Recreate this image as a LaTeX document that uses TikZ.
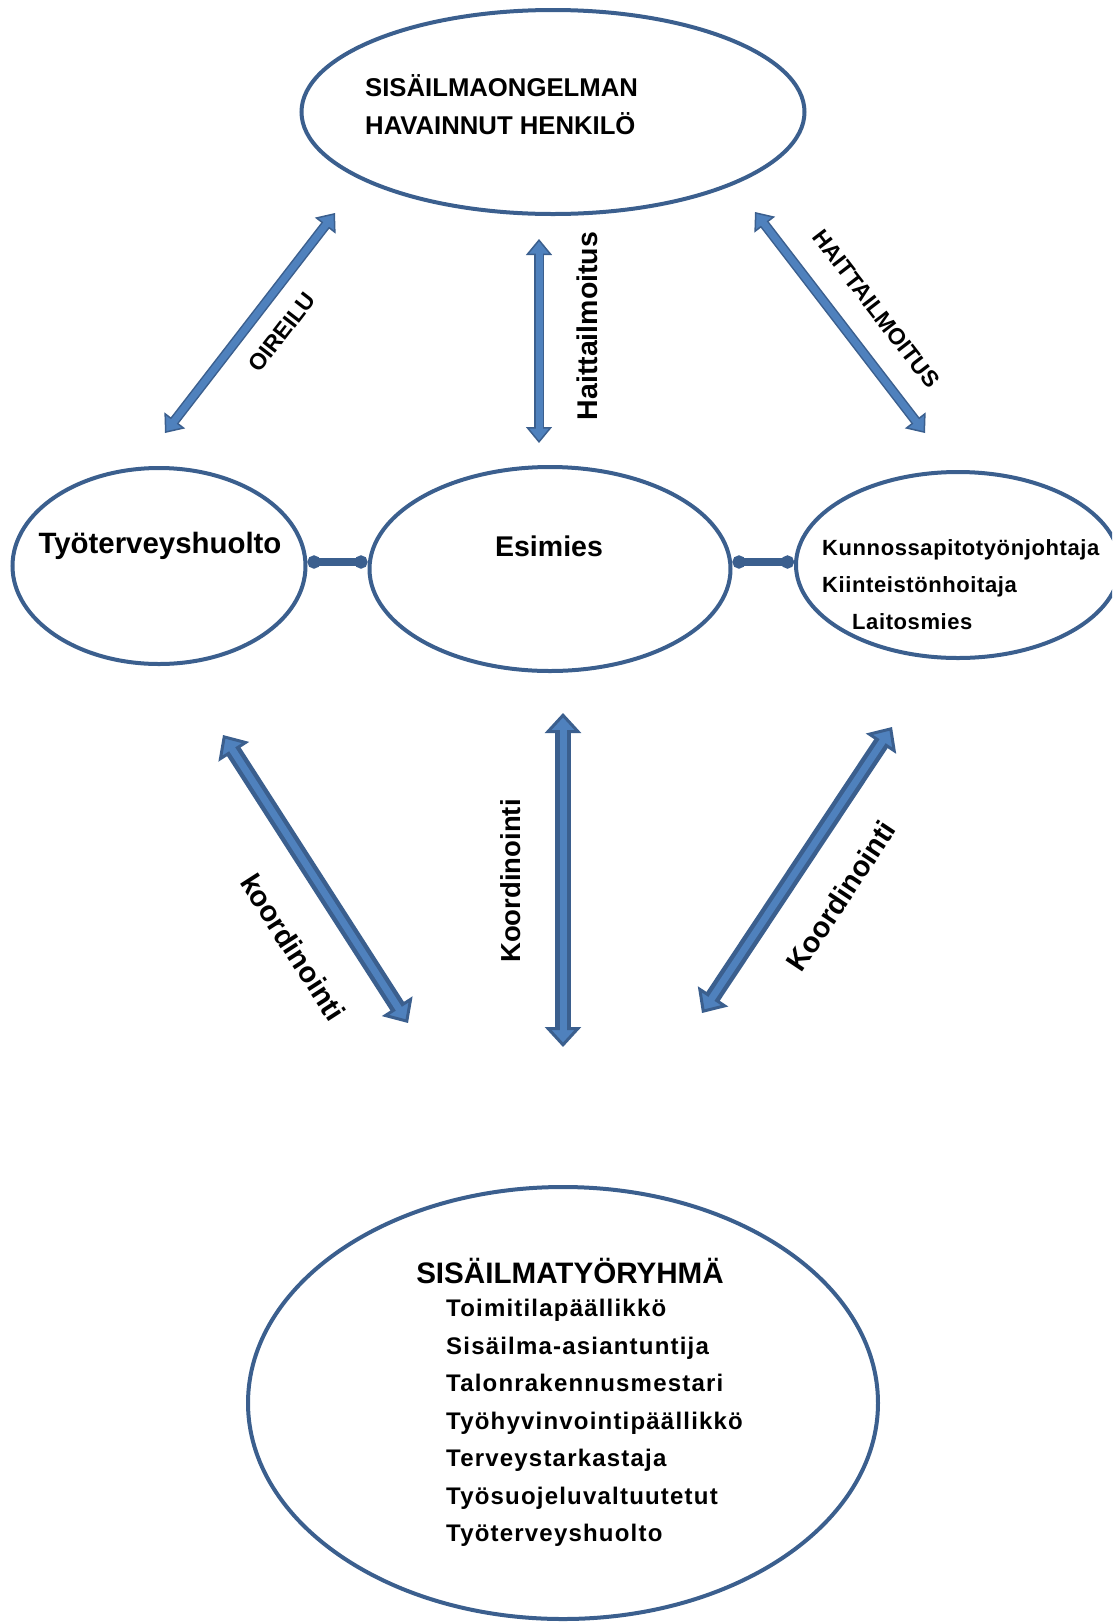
\documentclass[tikz,border=0pt]{standalone}
\usepackage{fontspec}
\setmainfont{Liberation Sans}
\newfontfamily\spacedsans[LetterSpace=5]{Liberation Sans}
\newfontfamily\tightsans[LetterSpace=2.7]{Liberation Sans}
\usetikzlibrary{shapes.geometric, arrows.meta, positioning}

\definecolor{edgeblue}{HTML}{3B5F8E}
\definecolor{arrowblue}{HTML}{4F81BD}

\tikzset{
    bubble/.style={ellipse, draw=edgeblue, line width=4pt, inner sep=0pt},
    caption/.style={inner sep=0pt},
    thinflow/.style={draw=edgeblue, line width=10pt,
        >={Triangle[length=16pt, width=26pt, fill=arrowblue, color=edgeblue, line width=1.5pt 0]}, <->,
        postaction={draw=arrowblue, line width=7pt, -, shorten <=9pt, shorten >=9pt}},
    thickflow/.style={draw=edgeblue, line width=16pt,
        >={Triangle[length=20pt, width=36pt, fill=arrowblue, color=edgeblue, line width=3pt 0]}, <->,
        postaction={draw=arrowblue, line width=7pt, -, shorten <=12pt, shorten >=12pt}},
    joint/.style={draw=edgeblue, line width=8pt, {Circle[length=13pt]}-{Circle[length=13pt]}}
}

\begin{document}
\begin{tikzpicture}[x=1pt, y=-1pt]
    \useasboundingbox (0,0) rectangle (1112,1623);
    \clip (0,0) rectangle (1112,1623);

    %% Ellipses
    \node[bubble, minimum width=503pt, minimum height=204pt] (henkilo) at (553,112) {};
    \node[bubble, minimum width=293pt, minimum height=196pt] (tth) at (159,566) {};
    \node[bubble, minimum width=361pt, minimum height=204pt] (esimies) at (550,569) {};
    \node[bubble, minimum width=324pt, minimum height=186pt] (kunnossapito) at (958,565) {};
    \node[bubble, minimum width=630pt, minimum height=432pt] (tyoryhma) at (563,1403) {};

    % Texts
    \node[caption, align=left, anchor=west, font=\bfseries\fontsize{25.7}{38}\selectfont] (henkiloteksti) at (365,105) {SISÄILMAONGELMAN\\HAVAINNUT HENKILÖ};
    \node[caption, font=\bfseries\fontsize{29.4}{35}\selectfont] (tthteksti) at (160,546) {Työterveyshuolto};
    \node[caption, font=\bfseries\fontsize{28.5}{35}\selectfont] (esimiesteksti) at (549,546) {Esimies};
    \node[caption, align=left, anchor=west, font=\tightsans\bfseries\fontsize{22}{37}\selectfont] (kunnossapitoteksti) at (822,585) {Kunnossapitotyönjohtaja\\Kiinteistönhoitaja\\\hspace{30pt}Laitosmies};
    \node[caption, font=\bfseries\fontsize{29.6}{35}\selectfont] (ryhmaotsikko) at (570,1271) {SISÄILMATYÖRYHMÄ};
    \node[caption, align=left, anchor=west, font=\spacedsans\bfseries\fontsize{24}{37.5}\selectfont] (ryhmateksti) at (446,1423) {Toimitilapäällikkö\\Sisäilma-asiantuntija\\Talonrakennusmestari\\Työhyvinvointipäällikkö\\Terveystarkastaja\\Työsuojeluvaltuutetut\\Työterveyshuolto};

    % Connectors
    \draw[joint] ([yshift=4pt]tth.east) -- ([yshift=7pt]esimies.west);
    \draw[joint] ([yshift=7pt]esimies.east) -- ([yshift=3pt]kunnossapito.west);

    % Upper arrows
    \coordinate (oireilu1) at (165,433);
    \coordinate (oireilu2) at (335,213);
    \coordinate (haitta1) at (539,443);
    \coordinate (haitta2) at (539,239);
    \coordinate (haittaiso1) at (755,212);
    \coordinate (haittaiso2) at (925,433);
    \draw[thinflow] (oireilu1) -- (oireilu2);
    \draw[thinflow] (haitta1) -- (haitta2);
    \draw[thinflow] (haittaiso1) -- (haittaiso2);

    % Lower arrows
    \coordinate (koord1) at (223,735);
    \coordinate (koord2) at (408,1023);
    \coordinate (koordk1) at (563,713);
    \coordinate (koordk2) at (563,1047);
    \coordinate (koordo1) at (702,1013);
    \coordinate (koordo2) at (892,727);
    \draw[thickflow] (koord1) -- (koord2);
    \draw[thickflow] (koordk1) -- (koordk2);
    \draw[thickflow] (koordo1) -- (koordo2);

    % Labels
    \node[caption, rotate=52.3, font=\bfseries\fontsize{23}{28}\selectfont] (oireilu) at (282,332) {OIREILU};
    \node[caption, rotate=90, font=\bfseries\fontsize{28.5}{34}\selectfont] (haittailmoitus) at (587,326) {Haittailmoitus};
    \node[caption, rotate=-52.4, font=\bfseries\fontsize{23}{28}\selectfont] (haittaiso) at (876,309) {HAITTAILMOITUS};
    \node[caption, rotate=-57.3, font=\bfseries\fontsize{29}{34}\selectfont] (koordinointi) at (293,947) {koordinointi};
    \node[caption, rotate=90, font=\bfseries\fontsize{27.5}{34}\selectfont] (koordkeski) at (511,881) {Koordinointi};
    \node[caption, rotate=56.4, font=\bfseries\fontsize{29}{34}\selectfont] (koordoikea) at (841,896) {Koordinointi};
\end{tikzpicture}
\end{document}
